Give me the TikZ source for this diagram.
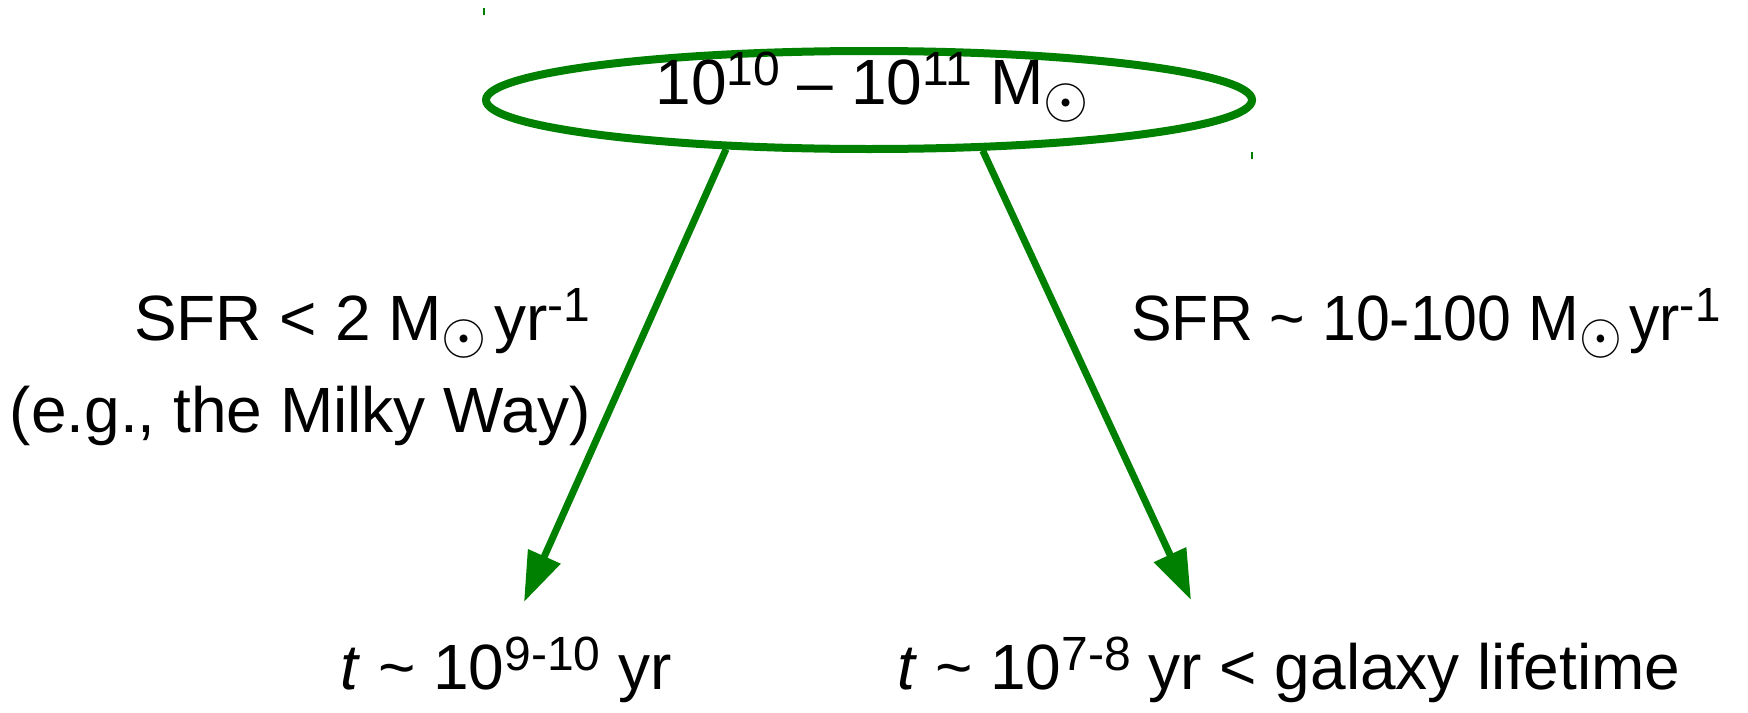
\documentclass[tikz,border=0pt]{standalone}
\usepackage{fontspec}
\setmainfont{Liberation Sans}
\usetikzlibrary{arrows.meta,shapes.geometric}
\definecolor{dgreen}{RGB}{0,128,0}
\newcommand{\odt}{\raisebox{\dimexpr 0.5pt-0.5\height+0.5\depth\relax}{\scalebox{2.9}{\fontsize{10}{12}\selectfont$\odot$}}}
\newcommand{\msun}{M\odt\hspace{0.12em}}
\newcommand{\sups}[1]{\raisebox{0.29em}{\scalebox{0.75}{#1}}}
\newcommand{\tld}{\textasciitilde}
\begin{document}
\begin{tikzpicture}[x=0.5pt,y=-0.5pt,
  lbl/.style={inner sep=0pt, font=\fontsize{32}{38}\selectfont},
  arr/.style={draw=dgreen, line width=3.5pt, -{Triangle[length=25pt,width=17pt]}},
  massnode/.style={ellipse, draw=dgreen, line width=4pt, minimum width=383pt, minimum height=49pt, inner sep=0pt},
  tick/.style={draw=dgreen, line width=1pt}]
\useasboundingbox (0,0) rectangle (1748,712);
\node[massnode] (mass) at (869,100) {};
\node[lbl, anchor=base] (masslabel) at (872,104) {10\sups{10} – 10\sups{11} \msun};
\coordinate (tipL) at (524,602);
\coordinate (tipR) at (1191,600);
\draw[arr] (mass.199.5) -- (tipL);
\draw[arr] (mass.336.7) -- (tipR);
\node[lbl, anchor=base east] (sfrL) at (591,340) {SFR < 2 \msun yr\sups{-1}};
\node[lbl, anchor=base east] (mw) at (591,432) {(e.g., the Milky Way)};
\node[lbl, anchor=base west] (sfrR) at (1131,340) {\scalebox{0.95}[1]{SFR \tld\ 10-100 \msun yr\sups{-1}}};
\node[lbl, anchor=base west] (tL) at (340,689) {\textit{t} \tld\ 10\sups{9-10} yr};
\node[lbl, anchor=base west] (tR) at (897,689) {\textit{t} \tld\ 10\sups{7-8} yr < galaxy lifetime};
\coordinate (tk1a) at (484,8); \coordinate (tk1b) at (484,15);
\coordinate (tk2a) at (1252,152); \coordinate (tk2b) at (1252,159);
\draw[tick] (tk1a) -- (tk1b);
\draw[tick] (tk2a) -- (tk2b);
\end{tikzpicture}
\end{document}
